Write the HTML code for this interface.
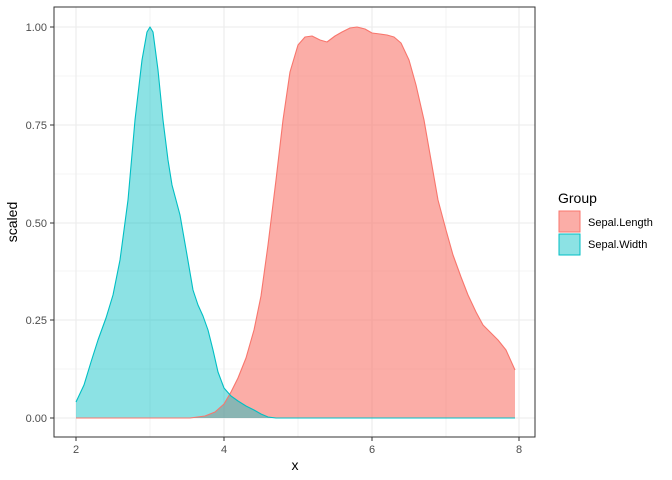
<!DOCTYPE html>
<html><head><style>body{margin:0;background:#fff}svg{display:block;font-family:"Liberation Sans",sans-serif}</style></head><body>
<svg width="672" height="480" viewBox="0 0 672 480">
<rect x="54" y="7" width="481" height="430" fill="#fff"/>
<g stroke="#ebebeb" stroke-width="0.6">
<line x1="54" x2="535" y1="369" y2="369"/><line x1="54" x2="535" y1="271" y2="271"/><line x1="54" x2="535" y1="174" y2="174"/><line x1="54" x2="535" y1="76" y2="76"/>
<line x1="150" x2="150" y1="7" y2="437"/><line x1="298" x2="298" y1="7" y2="437"/><line x1="446" x2="446" y1="7" y2="437"/>
</g>
<g stroke="#ebebeb" stroke-width="1.1">
<line x1="54" x2="535" y1="418" y2="418"/><line x1="54" x2="535" y1="320" y2="320"/><line x1="54" x2="535" y1="223" y2="223"/><line x1="54" x2="535" y1="125" y2="125"/><line x1="54" x2="535" y1="27" y2="27"/>
<line x1="76" x2="76" y1="7" y2="437"/><line x1="224" x2="224" y1="7" y2="437"/><line x1="372" x2="372" y1="7" y2="437"/><line x1="519" x2="519" y1="7" y2="437"/>
</g>
<path d="M76,418 L190,418 L205,416 L215,412 L224,404 L231,392 L238,378 L246,358 L254,330 L261,296 L268,245 L276,180 L283,120 L290,72 L298,45 L305,37 L312,36 L320,40 L327,42 L335,36 L342,32 L350,28 L357,27 L365,29 L372,33 L380,34 L387,35 L394,37 L401,43 L409,60 L416,85 L424,120 L431,160 L438,200 L446,230 L453,255 L461,277 L468,295 L476,312 L483,325 L490,332 L498,340 L506,350 L515,370 L515,418 Z" fill="#F8766D" fill-opacity="0.6" stroke="none"/>
<path d="M76,418 L76,402 L84,385 L91,362 L98,340 L106,318 L113,295 L120,260 L128,200 L135,120 L142,60 L147,32 L150,27 L153,32 L158,70 L163,120 L168,160 L172,185 L180,215 L187,255 L193,290 L198,305 L203,316 L208,330 L213,350 L218,372 L224,388 L231,396 L238,401 L246,406 L254,410 L261,414 L268,417 L276,418 L515,418 Z" fill="#00BFC4" fill-opacity="0.45" stroke="none"/>
<path d="M76,418 L190,418 L205,416 L215,412 L224,404 L231,392 L238,378 L246,358 L254,330 L261,296 L268,245 L276,180 L283,120 L290,72 L298,45 L305,37 L312,36 L320,40 L327,42 L335,36 L342,32 L350,28 L357,27 L365,29 L372,33 L380,34 L387,35 L394,37 L401,43 L409,60 L416,85 L424,120 L431,160 L438,200 L446,230 L453,255 L461,277 L468,295 L476,312 L483,325 L490,332 L498,340 L506,350 L515,370" fill="none" stroke="#F8766D" stroke-width="1.1" stroke-linejoin="round"/>
<path d="M76,402 L84,385 L91,362 L98,340 L106,318 L113,295 L120,260 L128,200 L135,120 L142,60 L147,32 L150,27 L153,32 L158,70 L163,120 L168,160 L172,185 L180,215 L187,255 L193,290 L198,305 L203,316 L208,330 L213,350 L218,372 L224,388 L231,396 L238,401 L246,406 L254,410 L261,414 L268,417 L276,418 L515,418" fill="none" stroke="#00BFC4" stroke-width="1.1" stroke-linejoin="round"/>
<rect x="54" y="7" width="481" height="430" fill="none" stroke="#333" stroke-width="1"/>
<g stroke="#333"><line x1="50" x2="54" y1="418" y2="418"/><line x1="50" x2="54" y1="320" y2="320"/><line x1="50" x2="54" y1="223" y2="223"/><line x1="50" x2="54" y1="125" y2="125"/><line x1="50" x2="54" y1="27" y2="27"/>
<line x1="76" x2="76" y1="437" y2="441"/><line x1="224" x2="224" y1="437" y2="441"/><line x1="372" x2="372" y1="437" y2="441"/><line x1="519" x2="519" y1="437" y2="441"/></g>
<g font-size="11" fill="#4d4d4d" text-anchor="end"><text x="47" y="422">0.00</text><text x="47" y="324">0.25</text><text x="47" y="227">0.50</text><text x="47" y="129">0.75</text><text x="47" y="31">1.00</text></g>
<g font-size="11" fill="#4d4d4d" text-anchor="middle"><text x="76" y="453">2</text><text x="224" y="453">4</text><text x="372" y="453">6</text><text x="519" y="453">8</text></g>
<text x="295" y="470" font-size="14" text-anchor="middle">x</text>
<text transform="translate(17,222) rotate(-90)" font-size="14" text-anchor="middle">scaled</text>
<text x="558" y="203" font-size="14">Group</text>
<rect x="559" y="211" width="21" height="21" fill="#F8766D" fill-opacity="0.6" stroke="#F8766D"/>
<rect x="559" y="234" width="21" height="21" fill="#00BFC4" fill-opacity="0.45" stroke="#00BFC4"/>
<text x="588" y="226" font-size="11">Sepal.Length</text>
<text x="588" y="248" font-size="11">Sepal.Width</text>
</svg>
</body></html>
